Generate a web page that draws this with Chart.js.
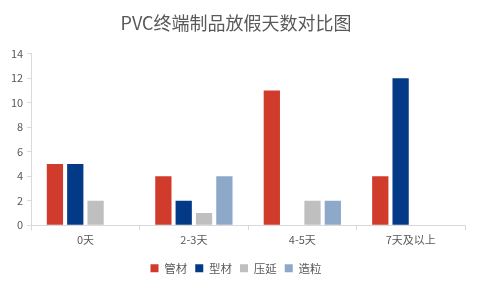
<!DOCTYPE html>
<html>
<head>
<meta charset="utf-8">
<script src="https://cdn.jsdelivr.net/npm/chart.js@4"></script>
<style>
  html, body { margin: 0; padding: 0; background: #fff; }
  #wrap { width: 479px; height: 289px; }
</style>
</head>
<body>
<div id="wrap"><canvas id="myChart"></canvas></div>
<script>
const categories = ['0天', '2-3天', '4-5天', '7天及以上'];
const guancai = [5, 4, 11, 4];
const xingcai = [5, 2, 0, 12];
const yayan = [2, 1, 2, 0];
const zaoli = [0, 4, 2, 0];
const yTicks = [0, 2, 4, 6, 8, 10, 12, 14];

const font = "'Noto Sans CJK SC', 'Noto Sans', sans-serif";
Chart.defaults.font.family = font;
Chart.defaults.color = '#595959';

new Chart(document.getElementById('myChart'), {
  type: 'bar',
  data: {
    labels: categories,
    datasets: [
      { label: '管材', data: guancai, backgroundColor: '#d13b2b' },
      { label: '型材', data: xingcai, backgroundColor: '#023a88' },
      { label: '压延', data: yayan, backgroundColor: '#bfbfbf' },
      { label: '造粒', data: zaoli, backgroundColor: '#8ea8ca' },
    ],
  },
  options: {
    responsive: true,
    maintainAspectRatio: false,
    animation: false,
    layout: { padding: { left: 7, right: 14, top: 6, bottom: 5 } },
    categoryPercentage: 0.75,
    barPercentage: 0.8,
    plugins: {
      title: {
        display: true,
        text: 'PVC终端制品放假天数对比图',
        font: { size: 18, weight: 'normal' },
        color: '#595959',
        padding: { top: 6, bottom: 20 },
      },
      legend: {
        position: 'bottom',
        labels: {
          boxWidth: 8,
          boxHeight: 8,
          padding: 8,
          font: { size: 11.5 },
        },
      },
      tooltip: { enabled: false },
    },
    scales: {
      x: {
        grid: { drawOnChartArea: false, color: '#d9d9d9', tickLength: 5 },
        border: { color: '#d9d9d9' },
        ticks: { font: { size: 11 }, padding: 3 },
        afterFit: (scale) => {
          scale.height += 5;
        },
      },
      y: {
        min: 0,
        max: 14,
        afterBuildTicks: (axis) => {
          axis.ticks = yTicks.map((v) => ({ value: v }));
        },
        grid: { drawOnChartArea: false, color: '#d9d9d9', tickLength: 4 },
        border: { color: '#d9d9d9' },
        ticks: { font: { size: 11 }, padding: 4 },
      },
    },
  },
});
</script>
</body>
</html>
